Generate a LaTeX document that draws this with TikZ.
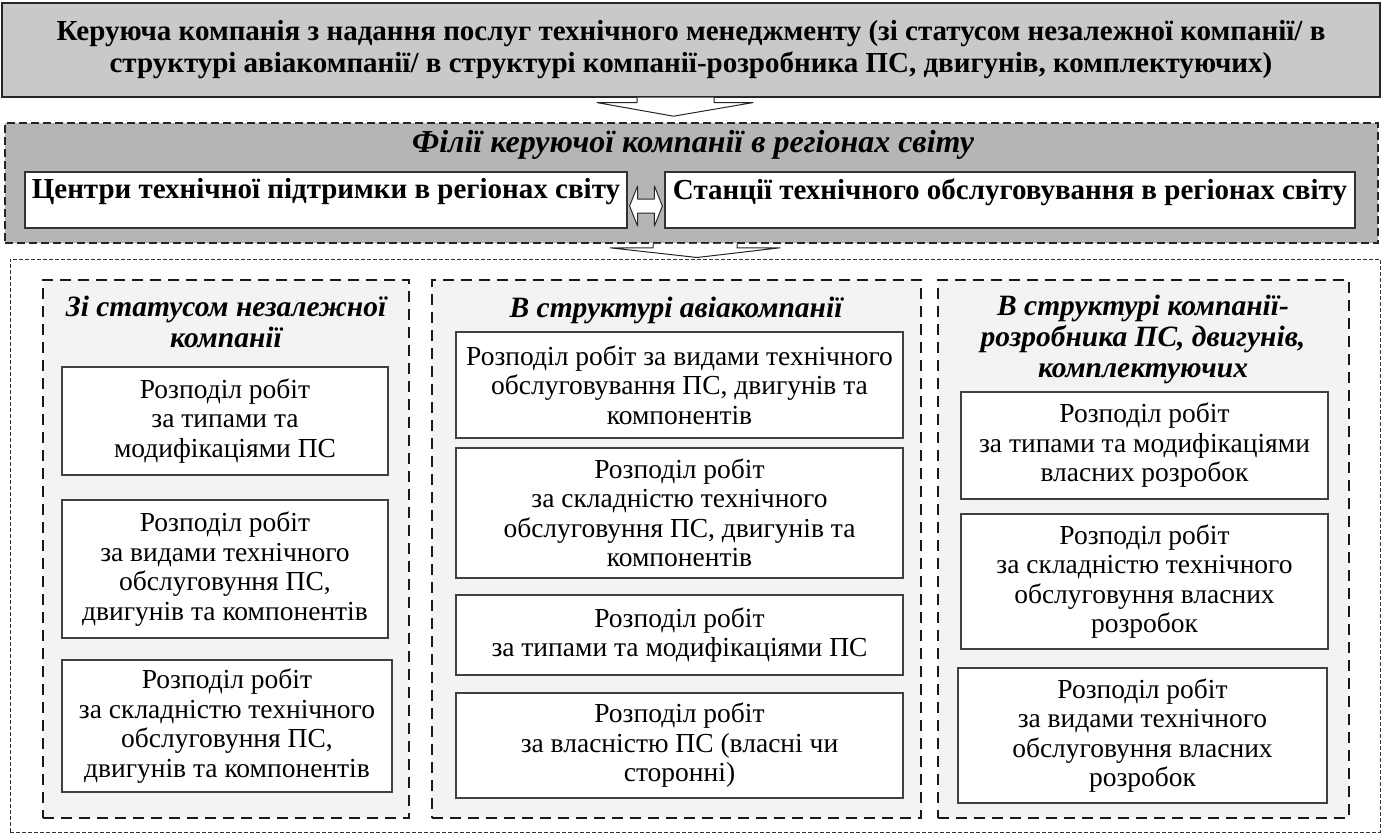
\documentclass[tikz,border=0pt]{standalone}
\usepackage{fontspec}
\setmainfont{Liberation Serif}
\usetikzlibrary{calc}
\definecolor{topgray}{HTML}{C9C9C9}
\definecolor{brgray}{HTML}{B5B5B5}
\definecolor{colgray}{HTML}{F3F3F3}
\newcommand{\bodyfnt}{\fontsize{27.5}{29.5}\selectfont}
\newcommand{\titlefnt}{\fontsize{29}{32}\selectfont\bfseries}
\newcommand{\headfnt}{\fontsize{29.5}{31}\selectfont\bfseries\itshape}
\newcommand{\brfnt}{\fontsize{32}{34}\selectfont\bfseries\itshape}
\begin{document}
\begin{tikzpicture}[x=1pt,y=-1pt,
  topbox/.style={draw=black!85, fill=topgray, line width=1.2pt, minimum width=1378, minimum height=94, align=center, inner sep=0pt, font=\titlefnt},
  brbox/.style={draw=black!85, fill=brgray, line width=1.6pt, dash pattern=on 8pt off 4pt, minimum width=1373, minimum height=120, inner sep=0pt},
  ctrbox/.style={draw=black!80, fill=white, line width=1.2pt, inner sep=0pt, minimum height=56},
  outerbox/.style={draw=black!80, fill=white, line width=1pt, dash pattern=on 4pt off 2pt, minimum width=1370, minimum height=573, inner sep=0pt},
  colbox/.style={draw=black!90, fill=colgray, line width=1.8pt, dash pattern=on 11pt off 7pt, minimum height=538, inner sep=0pt},
  wbox/.style={draw=black!75, fill=white, line width=1.2pt, inner sep=0pt, align=center, font=\bodyfnt},
  headtxt/.style={align=center, inner sep=0pt, font=\headfnt},
  brtxt/.style={inner sep=0pt, font=\brfnt},
  ctrtxt/.style={inner sep=0pt, font=\titlefnt},
  blockarrow/.style={draw=black!85, fill=white, line width=1pt, line join=round}
]
\useasboundingbox (0,0) rectangle (1388,835);

% top box
\node[topbox] (top) at (691,50) {Керуюча компанія з надання послуг технічного менеджменту (зі статусом незалежної компанії/ в\\структурі авіакомпанії/ в структурі компанії-розробника ПС, двигунів, комплектуючих)};

% branch box
\node[brbox] (branch) at (691.5,183) {};
\node[brtxt] (brtitle) at (693,145) {Філії керуючої компанії в регіонах світу};
\node[ctrbox, minimum width=602] (ctrl) at (326,200) {};
\node[ctrtxt] (ctrlt) at (326,192) {Центри технічної підтримки в регіонах світу};
\node[ctrbox, minimum width=690] (ctrr) at (1010,200) {};
\node[ctrtxt] (ctrrt) at (1010,192) {Станції технічного обслуговування в регіонах світу};

% arrow top -> branch
\draw[blockarrow] ($(top.south)+(-54,0)$) -- ($(top.south)+(-54,5)$) -- ($(top.south)+(-94,5)$)
  -- ($(branch.north)+(-18,-6)$) -- ($(top.south)+(62,5)$) -- ($(top.south)+(23,5)$) -- ($(top.south)+(23,0)$);

% double arrow between centres
\draw[blockarrow] ($(ctrl.east)+(2,6)$) -- ($(ctrl.east)+(10,-14)$) -- ($(ctrl.east)+(10,-1)$)
  -- ($(ctrr.west)+(-10,-1)$) -- ($(ctrr.west)+(-10,-14)$) -- ($(ctrr.west)+(-2,6)$)
  -- ($(ctrr.west)+(-10,26)$) -- ($(ctrr.west)+(-10,13)$) -- ($(ctrl.east)+(10,13)$)
  -- ($(ctrl.east)+(10,26)$) -- cycle;

% outer box
\node[outerbox] (outer) at (695,545.5) {};

% arrow branch -> outer
\draw[blockarrow] ($(branch.south)+(-38.5,0)$) -- ($(branch.south)+(-38.5,4)$) -- ($(branch.south)+(-81.5,4)$)
  -- ($(outer.north)+(2,-1)$) -- ($(branch.south)+(88.5,4)$) -- ($(branch.south)+(45.5,4)$) -- ($(branch.south)+(45.5,0)$);

% columns
\node[colbox, minimum width=366] (col1) at (226,549) {};
\node[colbox, minimum width=489] (col2) at (676.5,549) {};
\node[colbox, minimum width=411] (col3) at (1143.5,549) {};

\node[headtxt] (h1) at (226,322) {Зі статусом незалежної\\компанії};
\node[headtxt] (h2) at (676,310) {В структурі авіакомпанії};
\node[headtxt] (h3) at (1143,339) {В структурі компанії-\\розробника ПС, двигунів,\\комплектуючих};

% column 1
\node[wbox, minimum width=326, minimum height=108] (b1a) at (225,421) {Розподіл робіт\\за типами та\\модифікаціями ПС};
\node[wbox, minimum width=326, minimum height=138] (b1b) at (225,569) {Розподіл робіт\\за видами технічного\\обслуговуння ПС,\\двигунів та компонентів};
\node[wbox, minimum width=330, minimum height=132] (b1c) at (227,726) {Розподіл робіт\\за складністю технічного\\обслуговуння ПС,\\двигунів та компонентів};

% column 2
\node[wbox, minimum width=447, minimum height=106] (b2a) at (679.5,385) {Розподіл робіт за видами технічного\\обслуговування ПС, двигунів та\\компонентів};
\node[wbox, minimum width=447, minimum height=130] (b2b) at (679.5,513) {Розподіл робіт\\за складністю технічного\\обслуговуння ПС, двигунів та\\компонентів};
\node[wbox, minimum width=447, minimum height=80] (b2c) at (679.5,635) {Розподіл робіт\\за типами та модифікаціями ПС};
\node[wbox, minimum width=447, minimum height=105] (b2d) at (679.5,745.5) {Розподіл робіт\\за власністю ПС (власні чи\\сторонні)};

% column 3
\node[wbox, minimum width=367, minimum height=107] (b3a) at (1144.5,445.5) {Розподіл робіт\\за типами та модифікаціями\\власних розробок};
\node[wbox, minimum width=367, minimum height=135] (b3b) at (1144.5,581.5) {Розподіл робіт\\за складністю технічного\\обслуговуння власних\\розробок};
\node[wbox, minimum width=369, minimum height=135] (b3c) at (1142.5,735.5) {Розподіл робіт\\за видами технічного\\обслуговуння власних\\розробок};
\end{tikzpicture}
\end{document}
